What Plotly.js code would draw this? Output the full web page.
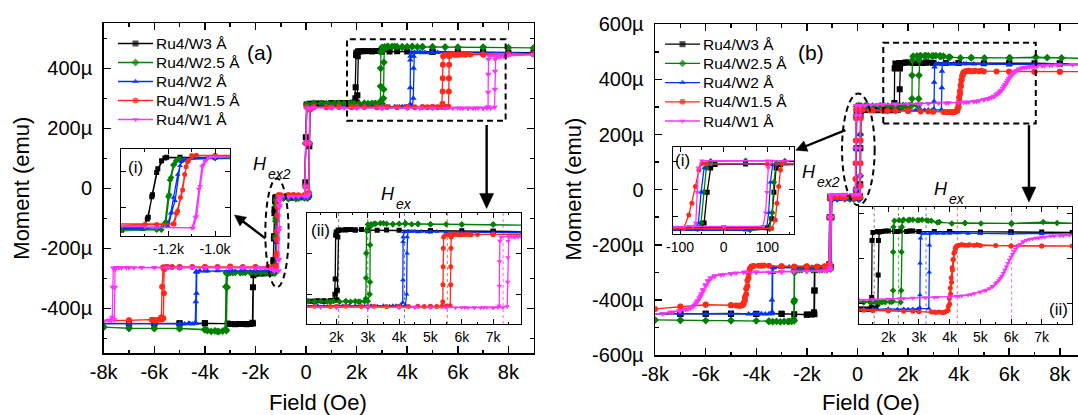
<!DOCTYPE html>
<html><head><meta charset="utf-8">
<script src="https://cdn.plot.ly/plotly-3.0.1.min.js"></script>
<style>html,body{margin:0;padding:0;overflow:hidden;background:#fff}#chart{width:1090px;height:415px}</style>
</head><body><div id="chart"></div>
<script>
// ---------------- DATA (field in Oe, moment in µemu) ----------------
const seriesNames = ['Ru4/W3 Å','Ru4/W2.5 Å','Ru4/W2 Å','Ru4/W1.5 Å','Ru4/W1 Å'];

// Panel (a): [field, moment] points, descending branch then ascending branch
const a_W3 = [[9000,452],[8000,453],[7000,454],[6000,455],[5000,455],[4000,456],[3600,457],[3300,456],[3000,457],[2800,458],[2600,457],[2450,458],[2300,457],[2150,457],[2050,456],[1990,452],[1975,444],[1960,337],[1950,300],[1930,286],[1800,284],[1600,283],[1400,284],[1200,283],[1000,283],[700,282],[400,283],[150,282],[20,279],[-10,170],[-30,20],[-60,-28],[-300,-30],[-600,-31],[-900,-30],[-1150,-30],[-1207,-30],[-1229,-42],[-1250,-83],[-1271,-167],[-1286,-239],[-1310,-277],[-1400,-282],[-1600,-283],[-1800,-284],[-1950,-283],[-2080,-285],[-2100,-330],[-2120,-448],[-2200,-452],[-2350,-453],[-2500,-452],[-2650,-452],[-2800,-453],[-2950,-452],[-3100,-451],[-4000,-450],[-5000,-450],[-6000,-451],[-7000,-450],[-8200,-450],
  [-7000,-451],[-6000,-450],[-5000,-451],[-4000,-450],[-3000,-452],[-2400,-452],[-2100,-451],[-2080,-290],[-2000,-284],[-1700,-283],[-1400,-283],[-1310,-278],[-1290,-245],[-1268,-160],[-1245,-70],[-1215,-32],[-1000,-30],[-600,-31],[-200,-30],[60,-29],[110,-22],[130,140],[150,270],[250,282],[600,283],[1000,284],[1300,283],[1600,284],[1850,285],[2010,286],[2030,310],[2045,440],[2070,456],[2300,458],[2600,457],[3000,456],[5000,455],[7000,454],[9000,452]];
const a_W25 = [[9000,468],[8000,469],[7000,470],[6000,470],[5500,471],[5000,471],[4600,472],[4400,471],[4200,473],[4000,472],[3800,471],[3600,472],[3400,473],[3250,472],[3100,471],[3000,470],[2960,455],[2950,400],[2945,340],[2940,290],[2900,283],[2750,282],[2600,283],[2450,282],[2300,283],[2100,282],[1900,283],[1700,282],[1500,283],[1300,282],[1100,283],[900,282],[600,283],[300,282],[30,280],[-10,150],[-30,10],[-60,-32],[-300,-33],[-700,-34],[-1000,-33],[-1150,-35],[-1167,-42],[-1179,-57],[-1193,-109],[-1200,-167],[-1214,-259],[-1230,-282],[-1400,-281],[-1600,-280],[-1800,-281],[-2000,-280],[-2200,-281],[-2400,-280],[-2600,-281],[-2800,-280],[-3000,-281],[-3150,-282],[-3170,-328],[-3185,-470],[-3300,-476],[-3450,-478],[-3600,-475],[-3750,-477],[-3900,-474],[-4000,-470],[-5000,-467],[-6000,-467],[-7000,-467],[-8000,-463],[-8200,-462],
  [-8000,-462],[-7000,-466],[-6000,-467],[-5000,-468],[-4000,-472],[-3500,-477],[-3150,-474],[-3120,-330],[-3110,-285],[-2900,-281],[-2500,-280],[-2000,-281],[-1500,-280],[-1250,-282],[-1210,-255],[-1196,-160],[-1188,-100],[-1175,-55],[-1160,-38],[-900,-33],[-400,-34],[60,-33],[110,-25],[130,150],[150,275],[300,283],[800,282],[1300,283],[1800,282],[2300,283],[2700,282],[3000,283],[3060,300],[3070,330],[3075,420],[3090,466],[3200,472],[3500,473],[3800,471],[4200,472],[4600,471],[5000,471],[6000,470],[7000,470],[9000,468]];
const a_W2 = [[9000,450],[8000,452],[7000,451],[6000,451],[5500,452],[5200,453],[4900,452],[4700,453],[4500,454],[4300,453],[4160,452],[4130,440],[4125,428],[4120,335],[4115,280],[4050,273],[3900,272],[3700,271],[3500,272],[3300,271],[3100,272],[2900,271],[2600,272],[2200,272],[1800,271],[1400,272],[1000,272],[600,273],[200,272],[30,271],[-10,150],[-30,10],[-60,-30],[-300,-31],[-700,-30],[-1000,-31],[-1130,-36],[-1139,-42],[-1150,-59],[-1171,-181],[-1186,-221],[-1200,-272],[-1250,-276],[-1500,-275],[-2000,-276],[-2500,-275],[-3000,-276],[-3500,-275],[-3900,-276],[-4200,-275],[-4340,-277],[-4360,-378],[-4380,-448],[-4500,-452],[-4650,-451],[-4800,-452],[-5000,-451],[-6000,-451],[-7000,-452],[-8200,-452],
  [-7000,-452],[-6000,-451],[-5000,-452],[-4600,-451],[-4350,-450],[-4330,-350],[-4320,-280],[-4000,-276],[-3000,-275],[-2000,-276],[-1300,-275],[-1205,-272],[-1190,-225],[-1178,-170],[-1160,-90],[-1145,-45],[-1100,-32],[-600,-31],[50,-30],[110,-22],[130,150],[150,265],[300,272],[900,272],[1600,271],[2400,272],[3200,271],[3800,272],[4200,273],[4240,300],[4250,400],[4255,440],[4280,453],[4400,453],[4600,452],[5000,453],[6000,451],[7000,451],[8000,452],[9000,450]];
const a_W15 = [[9000,447],[8000,447],[7000,446],[6500,446],[6300,445],[6100,446],[5900,445],[5750,446],[5600,445],[5480,444],[5420,440],[5410,412],[5405,367],[5400,323],[5395,282],[5370,271],[5200,270],[5000,271],[4800,270],[4600,271],[4300,270],[4000,271],[3600,270],[3200,271],[2800,270],[2300,271],[1800,270],[1300,271],[800,270],[300,271],[30,270],[-10,150],[-30,5],[-60,-22],[-300,-23],[-700,-22],[-1000,-23],[-1100,-24],[-1114,-42],[-1124,-63],[-1139,-144],[-1160,-217],[-1175,-262],[-1250,-264],[-1500,-262],[-2000,-263],[-2500,-262],[-3000,-261],[-3500,-262],[-4000,-263],[-4500,-262],[-5000,-263],[-5300,-262],[-5500,-262],[-5650,-263],[-5690,-328],[-5720,-430],[-5800,-437],[-5950,-440],[-6100,-438],[-7000,-440],[-8200,-442],
  [-7000,-441],[-6000,-439],[-5700,-437],[-5640,-433],[-5620,-350],[-5610,-270],[-5500,-262],[-5000,-262],[-4000,-262],[-3000,-262],[-2000,-262],[-1300,-263],[-1180,-262],[-1165,-225],[-1148,-170],[-1130,-90],[-1118,-45],[-1080,-23],[-500,-22],[50,-22],[110,-15],[130,150],[150,262],[300,270],[1000,270],[2000,271],[3000,270],[4000,271],[5000,270],[5500,271],[5630,272],[5645,323],[5650,367],[5655,412],[5660,440],[5700,445],[5850,446],[6000,445],[6200,446],[7000,446],[9000,447]];
const a_W1 = [[9000,445],[8000,444],[7900,440],[7800,441],[7700,439],[7600,440],[7520,441],[7250,440],[7215,430],[7205,380],[7200,320],[7195,272],[7150,268],[7000,267],[6800,268],[6600,267],[6400,268],[6200,267],[6000,268],[5500,268],[5000,267],[4500,268],[4000,267],[3000,268],[2000,267],[1000,268],[300,268],[30,268],[-10,150],[-30,5],[-60,-26],[-300,-27],[-700,-28],[-1000,-28],[-1030,-30],[-1039,-42],[-1050,-57],[-1064,-131],[-1079,-236],[-1093,-276],[-1250,-275],[-1400,-268],[-1800,-265],[-2500,-264],[-3500,-265],[-4500,-264],[-5500,-265],[-6500,-264],[-6800,-265],[-7100,-264],[-7300,-265],[-7500,-264],[-7620,-266],[-7640,-330],[-7660,-430],[-7800,-440],[-8200,-443],
  [-8000,-442],[-7700,-440],[-7580,-438],[-7560,-330],[-7550,-270],[-7400,-264],[-7000,-265],[-6000,-264],[-5000,-265],[-4000,-264],[-3000,-265],[-2000,-266],[-1300,-272],[-1100,-276],[-1085,-240],[-1070,-140],[-1056,-62],[-1045,-40],[-1000,-28],[-500,-27],[50,-27],[110,-20],[130,150],[150,265],[300,268],[1500,268],[3000,267],[4500,268],[5800,267],[6100,268],[6400,267],[6700,268],[7000,267],[7300,268],[7450,270],[7465,330],[7470,390],[7475,430],[7500,440],[7650,441],[7800,440],[7900,441],[9000,445]];

// Panel (b)
const b_W3 = [[9000,455],[8000,458],[7000,459],[6000,459],[5000,459],[4000,460],[3500,460],[3000,460],[2800,461],[2600,460],[2400,461],[2200,460],[2000,461],[1800,460],[1650,460],[1500,458],[1470,440],[1460,314],[1455,292],[1400,289],[1300,288],[1200,289],[1100,288],[1000,289],[800,288],[600,289],[400,290],[200,291],[50,289],[-20,286],[-30,270],[-38,150],[-45,0],[-52,-22],[-80,-25],[-200,-24],[-500,-25],[-800,-24],[-1000,-25],[-1080,-26],[-1100,-100],[-1115,-270],[-1150,-284],[-1300,-285],[-1500,-286],[-1650,-285],[-1700,-290],[-1710,-366],[-1720,-445],[-1800,-453],[-2000,-454],[-2500,-452],[-3000,-450],[-4000,-451],[-5000,-449],[-6000,-450],[-7000,-450],[-8200,-451],
  [-7000,-451],[-6000,-450],[-5000,-451],[-4000,-450],[-3000,-451],[-2000,-453],[-1700,-452],[-1690,-366],[-1685,-290],[-1600,-285],[-1400,-285],[-1200,-286],[-1050,-280],[-1030,-100],[-1010,-27],[-900,-25],[-500,-24],[0,-25],[100,-24],[110,20],[115,150],[120,270],[130,285],[300,290],[700,289],[1100,288],[1400,289],[1600,290],[1660,300],[1670,364],[1680,440],[1700,459],[1900,461],[2300,460],[2700,461],[3000,460],[4000,460],[6000,459],[8000,458],[9000,455]];
const b_W25 = [[9000,476],[8070,478],[7050,481],[6030,478],[5020,478],[4500,479],[4070,478],[3660,481],[3400,484],[3250,485],[3100,486],[2950,485],[2800,486],[2650,485],[2500,486],[2350,485],[2200,484],[2170,470],[2160,415],[2155,330],[2150,306],[2050,305],[1900,304],[1800,305],[1700,303],[1600,304],[1500,305],[1400,304],[1200,303],[900,304],[600,303],[300,304],[50,305],[-30,303],[-40,270],[-46,150],[-52,0],[-60,-30],[-150,-34],[-500,-33],[-800,-32],[-1000,-33],[-1080,-34],[-1100,-100],[-1120,-280],[-1200,-289],[-1400,-290],[-1600,-291],[-1800,-290],[-2000,-289],[-2200,-290],[-2400,-291],[-2500,-292],[-2510,-408],[-2520,-470],[-2600,-478],[-2750,-479],[-2900,-478],[-3050,-480],[-3200,-478],[-3350,-479],[-3500,-477],[-4000,-476],[-5000,-475],[-6000,-475],[-7000,-474],[-8000,-473],[-8200,-472],
  [-7000,-474],[-5000,-475],[-3500,-478],[-2700,-478],[-2500,-476],[-2490,-400],[-2485,-300],[-2300,-291],[-1800,-290],[-1300,-289],[-1060,-288],[-1040,-100],[-1020,-36],[-800,-33],[-300,-34],[60,-35],[105,-30],[111,50],[115,200],[120,290],[140,304],[400,305],[900,304],[1400,305],[1800,304],[2100,305],[2400,304],[2420,330],[2430,415],[2440,470],[2460,484],[2700,486],[3000,485],[3300,484],[3600,480],[4500,479],[6000,478],[7500,479],[9000,476]];
const b_W2 = [[9000,453],[8000,455],[7000,456],[6000,455],[5000,456],[4600,456],[4300,457],[4000,456],[3800,457],[3600,456],[3400,457],[3200,456],[3100,456],[3050,445],[3035,390],[3030,320],[3025,292],[2950,288],[2800,289],[2650,288],[2500,289],[2300,288],[2000,289],[1600,288],[1200,289],[800,288],[400,289],[50,290],[-35,288],[-45,270],[-52,150],[-58,0],[-66,-33],[-150,-36],[-500,-35],[-800,-36],[-1000,-35],[-1080,-36],[-1100,-100],[-1120,-275],[-1200,-282],[-1500,-281],[-1800,-282],[-2100,-281],[-2400,-282],[-2700,-281],[-3000,-282],[-3300,-283],[-3370,-300],[-3380,-400],[-3390,-446],[-3500,-450],[-3650,-451],[-3800,-450],[-3950,-451],[-4100,-450],[-4300,-451],[-5000,-450],[-6000,-451],[-7000,-450],[-8200,-450],
  [-7000,-451],[-5000,-450],[-4000,-451],[-3400,-450],[-3360,-445],[-3350,-300],[-3340,-283],[-3000,-282],[-2000,-281],[-1300,-282],[-1060,-280],[-1040,-100],[-1020,-37],[-600,-36],[50,-36],[98,-30],[103,50],[107,200],[112,285],[130,289],[500,288],[1000,289],[1500,288],[2000,289],[2500,288],[3000,289],[3320,290],[3335,370],[3340,430],[3350,455],[3500,457],[3800,456],[4200,457],[5000,456],[6000,455],[7000,456],[8000,455],[9000,453]];
const b_W15 = [[9000,428],[8000,428],[7000,428],[6000,428],[5000,429],[4800,430],[4650,431],[4500,430],[4400,431],[4300,430],[4230,428],[4180,423],[4140,412],[4110,398],[4080,380],[4050,358],[4020,335],[3990,312],[3960,295],[3920,285],[3850,282],[3750,281],[3650,282],[3550,281],[3400,282],[3000,283],[2500,284],[2000,285],[1500,285],[1000,286],[500,287],[100,288],[-40,290],[-50,292],[-57,259],[-65,178],[-73,96],[-80,39],[-92,-27],[-130,-30],[-500,-29],[-800,-28],[-1000,-29],[-1080,-30],[-1100,-100],[-1120,-270],[-1200,-278],[-1600,-279],[-2000,-278],[-2500,-279],[-3000,-278],[-3500,-276],[-3700,-275],[-3900,-276],[-4100,-277],[-4200,-280],[-4260,-290],[-4310,-320],[-4350,-350],[-4400,-380],[-4450,-402],[-4500,-415],[-4560,-420],[-4650,-421],[-4800,-420],[-5000,-419],[-6000,-417],[-7000,-424],[-8000,-433],[-8200,-434],
  [-7000,-425],[-6000,-418],[-5000,-420],[-4700,-421],[-4550,-419],[-4500,-410],[-4450,-390],[-4400,-360],[-4350,-330],[-4300,-303],[-4250,-287],[-4150,-278],[-3800,-276],[-3000,-278],[-2000,-279],[-1300,-278],[-1060,-277],[-1040,-100],[-1020,-30],[-600,-29],[0,-28],[110,-27],[118,14],[122,96],[126,178],[130,259],[134,292],[200,290],[600,287],[1200,286],[2000,285],[2800,284],[3500,282],[3800,281],[3950,286],[4000,300],[4030,322],[4060,348],[4090,375],[4120,398],[4160,415],[4200,424],[4280,429],[4400,431],[4600,430],[4900,431],[5500,429],[6000,428],[7000,428],[8000,428],[9000,428]];
const b_W1 = [[9000,455],[8500,454],[8000,452],[7700,451],[7400,450],[7100,448],[6900,446],[6700,444],[6500,441],[6400,437],[6300,432],[6200,426],[6100,416],[6000,404],[5900,390],[5800,375],[5700,361],[5600,352],[5500,345],[5400,338],[5300,334],[5150,330],[5000,327],[4800,323],[4600,320],[4400,318],[4200,317],[4000,316],[3600,315],[3200,314],[2800,313],[2400,312],[2000,311],[1500,310],[1000,310],[500,307],[100,305],[-50,305],[-58,270],[-61,150],[-64,0],[-70,-18],[-200,-18],[-500,-17],[-800,-18],[-1000,-18],[-1080,-20],[-1100,-100],[-1120,-285],[-1200,-295],[-1500,-296],[-2000,-297],[-2500,-298],[-3000,-299],[-3500,-300],[-4000,-300],[-4400,-299],[-4800,-302],[-5000,-305],[-5300,-308],[-5630,-312],[-5800,-320],[-5900,-330],[-6000,-345],[-6100,-362],[-6170,-378],[-6250,-393],[-6350,-408],[-6440,-420],[-6600,-430],[-6800,-435],[-7050,-439],[-7400,-445],[-7700,-450],[-8200,-451],
  [-7700,-449],[-7300,-444],[-7000,-440],[-6700,-433],[-6500,-424],[-6400,-414],[-6300,-402],[-6200,-386],[-6100,-368],[-6000,-350],[-5900,-334],[-5800,-322],[-5650,-314],[-5400,-309],[-5000,-304],[-4500,-300],[-4000,-299],[-3000,-298],[-2000,-296],[-1300,-294],[-1060,-290],[-1040,-100],[-1020,-20],[-600,-18],[0,-18],[90,-17],[96,50],[99,150],[102,270],[110,304],[300,306],[800,309],[1500,310],[2500,312],[3500,314],[4300,317],[4700,321],[5000,326],[5200,331],[5400,339],[5550,348],[5650,357],[5750,368],[5850,382],[5950,397],[6050,410],[6150,421],[6250,430],[6400,438],[6600,443],[6800,446],[7000,448],[7300,450],[7600,451],[7900,452],[8500,454],[9000,455]];

// Exchange-bias fields marked by dotted lines in insets (ii)
const a_Hex = [2070, 3000, 4170, 5540, 7320];
const b_Hex = [1540, 2330, 3230, 4250, 6020];

// Tick labels
const mainXVals = [-8000,-6000,-4000,-2000,0,2000,4000,6000,8000];
const mainXText = ['-8k','-6k','-4k','-2k','0','2k','4k','6k','8k'];
const mainXMinor = [-7000,-5000,-3000,-1000,1000,3000,5000,7000,9000];
const aYVals = [-400,-200,0,200,400];
const aYText = ['-400µ','-200µ','0','200µ','400µ'];
const aYMinor = [-500,-300,-100,100,300,500];
const bYVals = [-600,-400,-200,0,200,400,600];
const bYText = ['-600µ','-400µ','-200µ','0','200µ','400µ','600µ'];
const bYMinor = [-500,-300,-100,100,300,500];
const inAiXVals = [-1200,-1000]; const inAiXText = ['-1.2k','-1.0k']; const inAiXMinor = [-1300,-1100];
const inIIXVals = [2000,3000,4000,5000,6000,7000]; const inIIXText = ['2k','3k','4k','5k','6k','7k'];
const inIIXMinor = [1500,2500,3500,4500,5500,6500,7500];
const inBiXVals = [-100,0,100]; const inBiXText = ['-100','0','100']; const inBiXMinor = [-50,50,150];

// ---------------- STYLE / LAYOUT ----------------
const FONT = 'Liberation Sans, Arial, sans-serif';
const colors = ['#000000','#008000','#0033ff','#ff2a1a','#ff33ff'];
const dotColors = ['rgba(90,90,90,0.8)','rgba(0,128,0,0.7)','rgba(0,51,255,0.7)','rgba(255,42,26,0.7)','rgba(255,51,255,0.8)'];
const symbols = ['square','diamond','triangle-up','circle','triangle-down'];
const W = 1090, H = 415;
const fx = p => p / W, fy = p => 1 - p / H;

// plot boxes in pixels
const boxA = {l: 103.7, r: 533.7, t: 23.3, b: 353.3, xr: [-8000, 9000], yr: [-550, 550]};
const boxB = {l: 655.1, r: 1085.1, t: 24.3, b: 355, xr: [-8000, 9000], yr: [-600, 600]};
const toPx = (bx, x, y) => [bx.l + (x - bx.xr[0]) / (bx.xr[1] - bx.xr[0]) * (bx.r - bx.l),
                            bx.b - (y - bx.yr[0]) / (bx.yr[1] - bx.yr[0]) * (bx.b - bx.t)];

const aSets = [a_W3, a_W25, a_W2, a_W15, a_W1];
const bSets = [b_W3, b_W25, b_W2, b_W15, b_W1];

const traces = [];
function addTraces(sets, xa, ya, msize){
  sets.forEach((s, i) => {
    traces.push({
      x: s.map(p => p[0]), y: s.map(p => p[1]), xaxis: xa, yaxis: ya,
      type: 'scatter', mode: 'lines+markers', name: seriesNames[i], showlegend: false,
      line: {color: colors[i], width: 1.3},
      marker: {symbol: symbols[i], size: msize, color: colors[i], line: {width: 0}}
    });
  });
}
addTraces(aSets, 'x', 'y', 6);
addTraces(bSets, 'x2', 'y2', 6);
addTraces(aSets, 'x3', 'y3', 5);
addTraces(aSets, 'x4', 'y4', 5);
addTraces(bSets, 'x5', 'y5', 5);
addTraces(bSets, 'x6', 'y6', 5);

function axis(o){
  const a = {
    domain: o.domain, range: o.range, anchor: o.anchor, autorange: false,
    tickmode: 'array', tickvals: o.vals,
    showticklabels: !!o.text,
    ticks: 'inside', ticklen: o.tl, tickwidth: o.lw, tickcolor: '#000',
    showline: true, linecolor: '#000', linewidth: o.lw, mirror: 'allticks',
    showgrid: false, zeroline: false,
    tickfont: {family: FONT, size: o.fs, color: '#000'},
    ticklabelstandoff: o.so || 0
  };
  if (o.text) a.ticktext = o.text;
  if (o.minor) a.minor = {tickmode: 'array', tickvals: o.minor, ticks: 'inside', ticklen: o.tl/2, tickwidth: o.lw, tickcolor: '#000', showgrid: false};
  return a;
}

const layout = {
  width: W, height: H, margin: {l: 0, r: 0, t: 0, b: 0},
  paper_bgcolor: '#fff', plot_bgcolor: 'rgba(0,0,0,0)', showlegend: false,
  font: {family: FONT, color: '#000'},
  xaxis: axis({domain: [fx(boxA.l), fx(boxA.r)], range: boxA.xr, anchor: 'y', vals: mainXVals, text: mainXText, minor: mainXMinor, tl: 7, lw: 1.5, fs: 20, so: 0}),
  yaxis: axis({domain: [fy(boxA.b), fy(boxA.t)], range: boxA.yr, anchor: 'x', vals: aYVals, text: aYText, minor: aYMinor, tl: 7, lw: 1.5, fs: 20, so: 6}),
  xaxis2: axis({domain: [fx(boxB.l), fx(boxB.r)], range: boxB.xr, anchor: 'y2', vals: mainXVals, text: mainXText, minor: mainXMinor, tl: 7, lw: 1.5, fs: 20, so: 0}),
  yaxis2: axis({domain: [fy(boxB.b), fy(boxB.t)], range: boxB.yr, anchor: 'x2', vals: bYVals, text: bYText, minor: bYMinor, tl: 7, lw: 1.5, fs: 20, so: 6}),
  xaxis3: axis({domain: [fx(120.7), fx(230)], range: [-1404, -936], anchor: 'y3', vals: inAiXVals, text: inAiXText, minor: inAiXMinor, tl: 5, lw: 1, fs: 14, so: 0}),
  yaxis3: axis({domain: [fy(236), fy(149)], range: [-304, -1], anchor: 'x3', vals: [-80, -205], tl: 5, lw: 1, fs: 14}),
  xaxis4: axis({domain: [fx(306.7), fx(521)], range: [1050, 7890], anchor: 'y4', vals: inIIXVals, text: inIIXText, minor: inIIXMinor, tl: 5, lw: 1, fs: 14, so: 0}),
  yaxis4: axis({domain: [fy(324), fy(212.7)], range: [227.5, 499], anchor: 'x4', vals: [300, 400], tl: 5, lw: 1, fs: 14}),
  xaxis5: axis({domain: [fx(672.7), fx(794)], range: [-117, 161], anchor: 'y5', vals: inBiXVals, text: inBiXText, minor: inBiXMinor, tl: 5, lw: 1, fs: 14, so: 0}),
  yaxis5: axis({domain: [fy(234.3), fy(147.3)], range: [-56, 371], anchor: 'x5', vals: [31, 165, 300], tl: 5, lw: 1, fs: 14}),
  xaxis6: axis({domain: [fx(859), fx(1071.7)], range: [1045, 7978], anchor: 'y6', vals: inIIXVals, text: inIIXText, minor: inIIXMinor, tl: 5, lw: 1, fs: 14, so: 0}),
  yaxis6: axis({domain: [fy(324.3), fy(206.7)], range: [255, 515], anchor: 'x6', vals: [300, 400, 500], tl: 5, lw: 1, fs: 14}),
  // overlay axis in pixel units for legend keys, arrows and free labels
  xaxis7: {domain: [0, 1], range: [0, W], anchor: 'y7', visible: false, fixedrange: true},
  yaxis7: {domain: [0, 1], range: [H, 0], anchor: 'x7', visible: false, fixedrange: true},
  shapes: [], annotations: []
};

// legends drawn as keys + labels
function legendBlock(x0, y0, step, lineLen){
  seriesNames.forEach((nm, i) => {
    const yy = y0 + i * step;
    traces.push({x: [x0, x0 + lineLen / 2, x0 + lineLen], y: [yy, yy, yy], xaxis: 'x7', yaxis: 'y7',
      type: 'scatter', mode: 'lines+markers', showlegend: false, hoverinfo: 'skip',
      line: {color: colors[i], width: 1.3},
      marker: {symbol: symbols[i], size: [0, 6, 0], color: colors[i], line: {width: 0}}});
    layout.annotations.push({xref: 'x7', yref: 'y7', x: x0 + lineLen + 0.5, y: yy, text: nm, showarrow: false,
      xanchor: 'left', yanchor: 'middle', font: {family: FONT, size: 15.5, color: '#000'}});
  });
}
legendBlock(118, 43.5, 19, 35);
legendBlock(665, 44.2, 19.2, 35);

// dotted guide lines in insets (ii)
a_Hex.forEach((h, i) => layout.shapes.push({type: 'line', xref: 'x4', yref: 'y4 domain', x0: h, x1: h, y0: 0, y1: 1, layer: 'below', line: {color: dotColors[i], width: 1, dash: 'dot'}}));
b_Hex.forEach((h, i) => layout.shapes.push({type: 'line', xref: 'x6', yref: 'y6 domain', x0: h, x1: h, y0: 0, y1: 1, layer: 'below', line: {color: dotColors[i], width: 1, dash: 'dot'}}));
// dashed boxes and ellipses
const dashLine = {color: '#000', width: 2, dash: '6px,4px'};
layout.shapes.push({type: 'rect', xref: 'x', yref: 'y', x0: 1620, x1: 7890, y0: 225, y1: 497, line: dashLine});
layout.shapes.push({type: 'circle', xref: 'x', yref: 'y', x0: -1610, x1: -690, y0: -330, y1: 33, line: dashLine});
layout.shapes.push({type: 'rect', xref: 'x2', yref: 'y2', x0: 1020, x1: 7050, y0: 240, y1: 533, line: dashLine});
layout.shapes.push({type: 'circle', xref: 'x2', yref: 'y2', x0: -610, x1: 680, y0: -57, y1: 349, line: dashLine});

// arrows (tail -> head, in panel data units), drawn as line + filled head
function arrow(bx, tx, ty, hx, hy, L, w){
  const t = toPx(bx, tx, ty), h = toPx(bx, hx, hy);
  const dx = h[0] - t[0], dy = h[1] - t[1], len = Math.hypot(dx, dy);
  const ux = dx / len, uy = dy / len, bxp = h[0] - ux * L, byp = h[1] - uy * L;
  layout.shapes.push({type: 'line', xref: 'x7', yref: 'y7', x0: t[0], y0: t[1], x1: bxp + ux, y1: byp + uy, line: {color: '#000', width: 2.4}});
  layout.shapes.push({type: 'path', xref: 'x7', yref: 'y7', fillcolor: '#000', line: {color: '#000', width: 0.5},
    path: `M${h[0]},${h[1]} L${bxp - uy * w},${byp + ux * w} L${bxp + uy * w},${byp - ux * w} Z`});
}
arrow(boxA, -1610, -167, -2830, -89, 11, 5.5);
arrow(boxA, 7140, 211, 7140, -67, 15, 7);
arrow(boxB, -476, 216, -2440, 143, 11, 5.5);
arrow(boxB, 6780, 234, 6780, -45, 15, 7);

// texts
function txt(xr, yr, x, y, t, size, anchor){
  return {xref: xr, yref: yr, x: x, y: y, text: t, showarrow: false, xanchor: anchor || 'center', yanchor: 'middle',
    font: {family: FONT, size: size, color: '#000'}};
}
layout.annotations.push(txt('x', 'y', -1820, 453, '(a)', 21));
layout.annotations.push(txt('x2', 'y2', -1820, 496, '(b)', 21));
// H with italic subscript: main letter + smaller subscript placed to its lower right
function hLabel(cx, cy, sub){
  layout.annotations.push(txt('x7', 'y7', cx, cy, '<i>H</i>', 18));
  layout.annotations.push(txt('x7', 'y7', cx + 6, cy + 10, '<i>' + sub + '</i>', 14, 'left'));
}
hLabel(260, 164, 'ex2');
hLabel(387.5, 193.5, 'ex');
hLabel(809, 171.5, 'ex2');
hLabel(941, 188.5, 'ex');
layout.annotations.push(txt('x3 domain', 'y3 domain', 0.131, 0.793, '(i)', 17));
layout.annotations.push(txt('x4 domain', 'y4 domain', 0.064, 0.836, '(ii)', 17));
layout.annotations.push(txt('x5 domain', 'y5 domain', 0.081, 0.854, '(i)', 17));
layout.annotations.push(txt('x6 domain', 'y6 domain', 0.936, 0.122, '(ii)', 17));
// axis titles
layout.annotations.push(txt('paper', 'paper', fx(318), fy(402), 'Field (Oe)', 22));
layout.annotations.push(txt('paper', 'paper', fx(871), fy(402), 'Field (Oe)', 22));
const yt1 = txt('paper', 'paper', fx(20.7), fy(188), 'Moment (emu)', 22); yt1.textangle = -90; layout.annotations.push(yt1);
const yt2 = txt('paper', 'paper', fx(572.6), fy(189), 'Moment (emu)', 22); yt2.textangle = -90; layout.annotations.push(yt2);

Plotly.newPlot('chart', traces, layout, {staticPlot: true, displayModeBar: false});
</script>
</body></html>
